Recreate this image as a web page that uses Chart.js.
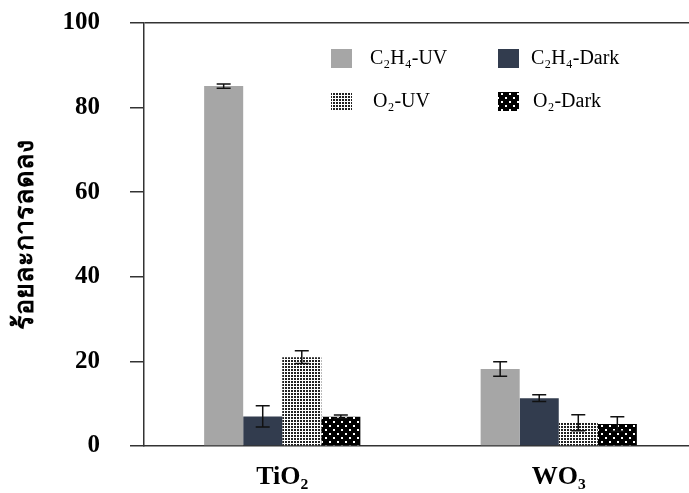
<!DOCTYPE html>
<html>
<head>
<meta charset="utf-8">
<script src="https://cdn.jsdelivr.net/npm/chart.js@4.4.1/dist/chart.umd.min.js"></script>
<style>
  html, body { margin: 0; padding: 0; background: #fff; overflow: hidden; }
  #wrap { width: 697px; height: 493px; }
</style>
</head>
<body>
<div id="wrap"><canvas id="grafico" width="697" height="493"></canvas></div>
<script>
const categorias = ['TiO\u2082', 'WO\u2083'];
const rotulos = ['C\u2082H\u2084-UV', 'C\u2082H\u2084-Dark', 'O\u2082-UV', 'O\u2082-Dark'];
const c2h4UV = [85.1, 18.2];
const c2h4Dark = [7.0, 11.3];
const o2UV = [21.0, 5.5];
const o2Dark = [6.9, 5.2];
const erroC2h4UV = [0.5, 1.7];
const erroC2h4Dark = [2.5, 0.8];
const erroO2UV = [1.5, 1.9];
const erroO2Dark = [0.4, 1.7];
const yTicks = [0, 20, 40, 60, 80, 100];

const serif = "'Liberation Serif', 'Times New Roman', serif";

// patterns for the O2 bars
function padraoPontos() {
    const c = document.createElement('canvas');
    c.width = 3; c.height = 3;
    const g = c.getContext('2d');
    g.fillStyle = '#fff';
    g.fillRect(0, 0, 3, 3);
    g.fillStyle = '#222';
    g.fillRect(0, 0, 2, 2);
    return g.createPattern(c, 'repeat');
}
function padraoEscuro() {
    const c = document.createElement('canvas');
    c.width = 8; c.height = 8;
    const g = c.getContext('2d');
    g.fillStyle = '#000';
    g.fillRect(0, 0, 8, 8);
    g.fillStyle = '#fff';
    g.fillRect(1, 1, 2, 2);
    g.fillRect(5, 5, 2, 2);
    return g.createPattern(c, 'repeat');
}

const ctx = document.getElementById('grafico').getContext('2d');
const cores = ['#a6a6a6', '#323c4e', padraoPontos(), padraoEscuro()];
const valores = [c2h4UV, c2h4Dark, o2UV, o2Dark];
const erros = [erroC2h4UV, erroC2h4Dark, erroO2UV, erroO2Dark];

const barrasErro = {
    id: 'barrasErro',
    afterDatasetsDraw(chart) {
        const c = chart.ctx;
        const y = chart.scales.y;
        c.save();
        c.strokeStyle = '#111';
        c.lineWidth = 1.5;
        chart.data.datasets.forEach((ds, i) => {
            const meta = chart.getDatasetMeta(i);
            meta.data.forEach((bar, j) => {
                const v = ds.data[j], e = erros[i][j];
                const y1 = y.getPixelForValue(v + e), y2 = y.getPixelForValue(v - e);
                const x = bar.x;
                c.beginPath();
                c.moveTo(x, y1); c.lineTo(x, y2);
                c.moveTo(x - 7, y1); c.lineTo(x + 7, y1);
                c.moveTo(x - 7, y2); c.lineTo(x + 7, y2);
                c.stroke();
            });
        });
        c.restore();
    }
};

const legenda = {
    id: 'legenda',
    afterDraw(chart) {
        const c = chart.ctx;
        const pos = [[331, 49, 370], [498, 49, 531], [331, 92, 373], [498, 92, 533]];
        c.save();
        c.font = '20px ' + serif;
        c.fillStyle = '#000';
        c.textBaseline = 'middle';
        chart.data.datasets.forEach((ds, i) => {
            const p = pos[i];
            c.fillStyle = ds.backgroundColor;
            c.fillRect(p[0], p[1], 21, 19);
            c.fillStyle = '#000';
            c.fillText(ds.label, p[2], p[1] + 10);
        });
        c.restore();
    }
};

new Chart(ctx, {
    type: 'bar',
    data: {
        labels: categorias,
        datasets: rotulos.map((r, i) => ({
            label: r,
            data: valores[i],
            backgroundColor: cores[i],
            borderWidth: 0,
            barPercentage: 1,
            categoryPercentage: 0.565
        }))
    },
    options: {
        responsive: false,
        animation: false,
        layout: { padding: { top: 23, right: 0, left: 0, bottom: 0 } },
        plugins: {
            legend: { display: false },
            tooltip: { enabled: false }
        },
        scales: {
            x: {
                grid: { display: false },
                border: { display: true, color: '#333', width: 1.5 },
                ticks: {
                    color: '#000',
                    padding: 8,
                    font: { family: serif, size: 26, weight: 'bold' }
                },
                afterFit: s => { s.height = 47; }
            },
            y: {
                min: 0,
                max: 100,
                afterBuildTicks: s => { s.ticks = yTicks.map(v => ({ value: v })); },
                grid: {
                    drawOnChartArea: true,
                    color: c => c.tick && c.tick.value === 100 ? '#333' : 'rgba(0,0,0,0)',
                    tickColor: '#333',
                    tickLength: 14,
                    lineWidth: 1.5
                },
                border: { display: true, color: '#333', width: 1.5 },
                ticks: {
                    color: '#000',
                    padding: 30,
                    font: { family: serif, size: 25, weight: 'bold' }
                },
                title: {
                    display: true,
                    text: 'ร้อยละการลดลง',
                    color: '#000',
                    padding: 10,
                    font: { family: serif, size: 27, weight: 'bold' }
                },
                afterFit: s => {
                    s.width = 144;
                    s.paddingTop = 0;
                    s.paddingBottom = 0;
                }
            }
        }
    },
    plugins: [barrasErro, legenda]
});
</script>
</body>
</html>
